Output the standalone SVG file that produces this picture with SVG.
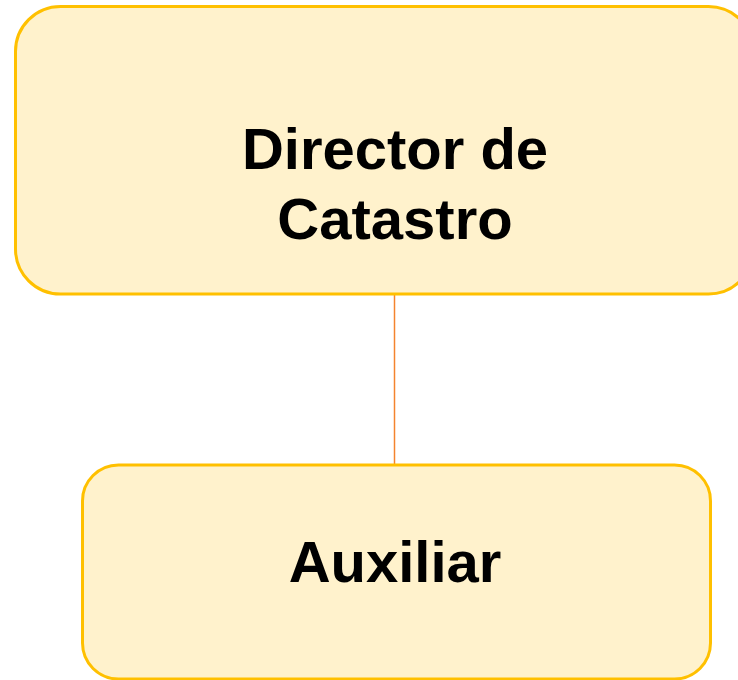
<svg xmlns="http://www.w3.org/2000/svg" width="738" height="680" viewBox="0 0 738 680">
<style>
.box{fill:#FFF2CC;stroke:#FFC000;stroke-width:3}
.t{font-family:"Liberation Sans",Arial,sans-serif;font-weight:bold;font-size:58px;fill:#000;text-anchor:middle}
.c{stroke:#F4842F;stroke-width:1.5;fill:none}
</style>
<g id="connectors">
<line class="c" x1="394.5" y1="294" x2="394.5" y2="465"/>
</g>
<g id="director">
<rect class="box" x="15.5" y="6.5" width="738" height="287.5" rx="45" ry="45"/>
<text class="t" x="395" y="168.5">Director de</text>
<text class="t" x="395" y="238.5">Catastro</text>
</g>
<g id="auxiliar">
<rect class="box" x="82.5" y="465" width="628" height="214" rx="36" ry="36"/>
<text class="t" x="395" y="582">Auxiliar</text>
</g>
</svg>
